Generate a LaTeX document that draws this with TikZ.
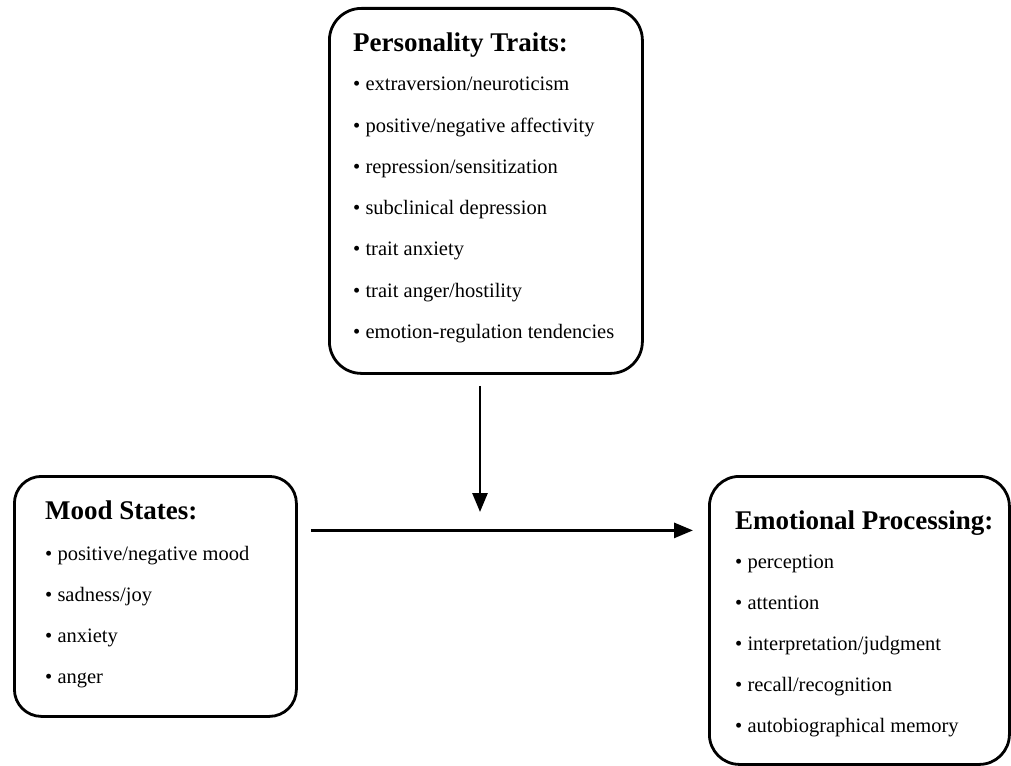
\documentclass[tikz,border=0pt]{standalone}
\usepackage{fontspec}
\setmainfont{Liberation Serif}
\usetikzlibrary{arrows.meta,positioning}
\tikzset{
  panel/.style={
    draw=black,
    line width=2.8pt,
    rounded corners=#1,
    inner sep=0pt,
    anchor=north west
  },
  paneltitle/.style={anchor=base west, inner sep=0pt, font=\fontsize{27}{32}\selectfont\bfseries},
  panelitem/.style={anchor=base west, inner sep=0pt, font=\fontsize{20.5}{24}\selectfont},
  flow/.style={-{Triangle[length=19pt,width=15pt]}, line width=2.8pt}
}

\begin{document}
\begin{tikzpicture}[x=1pt,y=-1pt]
  \useasboundingbox (0,0) rectangle (1011,765);

  % the three panels
  \node[panel=32pt, minimum width=313pt, minimum height=365pt] (traits) at (328,7) {};
  \node[panel=27pt, minimum width=282pt, minimum height=240pt] (mood) at (13,475) {};
  \node[panel=30pt, minimum width=300pt, minimum height=288pt] (emotion) at (708,475) {};

  \node[paneltitle] (traitstitle) at (353,52) {Personality Traits:};
  \foreach \txt [count=\i from 0] in {extraversion/neuroticism, positive/negative affectivity,
      repression/sensitization, subclinical depression, trait anxiety,
      trait anger/hostility, emotion-regulation tendencies}
    \node[panelitem] (traititem\i) at (353,91+41.2*\i) {\textbullet\ \txt};

  \node[paneltitle] (moodtitle) at (45,519) {Mood States:};
  \foreach \txt [count=\i from 0] in {positive/negative mood, sadness/joy, anxiety, anger}
    \node[panelitem] (mooditem\i) at (45,560+41*\i) {\textbullet\ \txt};

  \node[paneltitle] (emotiontitle) at (735,529) {Emotional Processing:};
  \foreach \txt [count=\i from 0] in {perception, attention, interpretation/judgment,
      recall/recognition, autobiographical memory}
    \node[panelitem] (emotionitem\i) at (735,568+41*\i) {\textbullet\ \txt};

  % arrows
  \coordinate (join) at (480,512);
  \draw[flow, shorten <=11pt] (join |- traits.south) -- (join);
  \path ([yshift=66pt]mood.east) coordinate (from);
  \draw[flow, shorten <=13pt, shorten >=15pt] (from) -- (from -| emotion.west);
\end{tikzpicture}
\end{document}
